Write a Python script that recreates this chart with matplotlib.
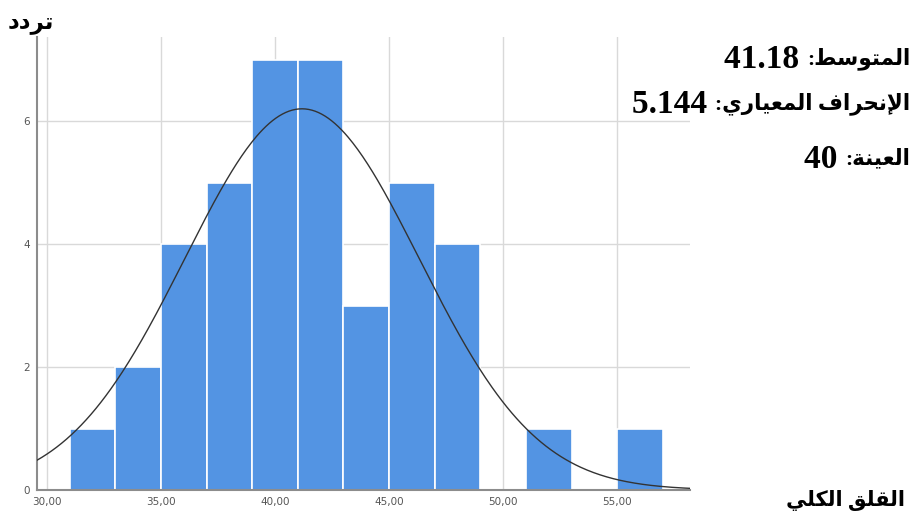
import numpy as np
import matplotlib
matplotlib.use("Agg")
import matplotlib.pyplot as plt

# histogram of total anxiety scores (bins of width 2)
bin_edges = [31, 33, 35, 37, 39, 41, 43, 45, 47, 49, 51, 53, 55, 57]
counts = [1, 2, 4, 5, 7, 7, 3, 5, 4, 0, 1, 0, 1]

mean = 41.18
std_dev = 5.144
n = 40

x_ticks = [30, 35, 40, 45, 50, 55]
x_tick_labels = ["30,00", "35,00", "40,00", "45,00", "50,00", "55,00"]
y_ticks = [0, 2, 4, 6]

y_title = "تردد"
x_title = "القلق الكلي"
stat_labels = ["المتوسط", "الإنحراف المعياري", "العينة"]
stat_values = ["41.18", "5.144", "40"]

# arabic presentation forms: isolated, final, initial, medial
FORMS = {
    "ا": ("\uFE8D", "\uFE8E", None, None),
    "إ": ("\uFE87", "\uFE88", None, None),
    "ة": ("\uFE93", "\uFE94", None, None),
    "ت": ("\uFE95", "\uFE96", "\uFE97", "\uFE98"),
    "ح": ("\uFEA1", "\uFEA2", "\uFEA3", "\uFEA4"),
    "د": ("\uFEA9", "\uFEAA", None, None),
    "ر": ("\uFEAD", "\uFEAE", None, None),
    "س": ("\uFEB1", "\uFEB2", "\uFEB3", "\uFEB4"),
    "ط": ("\uFEC1", "\uFEC2", "\uFEC3", "\uFEC4"),
    "ع": ("\uFEC9", "\uFECA", "\uFECB", "\uFECC"),
    "ف": ("\uFED1", "\uFED2", "\uFED3", "\uFED4"),
    "ق": ("\uFED5", "\uFED6", "\uFED7", "\uFED8"),
    "ك": ("\uFED9", "\uFEDA", "\uFEDB", "\uFEDC"),
    "ل": ("\uFEDD", "\uFEDE", "\uFEDF", "\uFEE0"),
    "م": ("\uFEE1", "\uFEE2", "\uFEE3", "\uFEE4"),
    "ن": ("\uFEE5", "\uFEE6", "\uFEE7", "\uFEE8"),
    "و": ("\uFEED", "\uFEEE", None, None),
    "ي": ("\uFEF1", "\uFEF2", "\uFEF3", "\uFEF4"),
}
LAM_ALEF = {"ا": ("\uFEFB", "\uFEFC"), "إ": ("\uFEF9", "\uFEFA")}


def dual(ch):
    return ch in FORMS and FORMS[ch][2] is not None


def rtl(text):
    # join letters into contextual forms, then flip to visual order
    out = []
    i = 0
    while i < len(text):
        ch = text[i]
        if ch not in FORMS:
            out.append(ch)
            i += 1
            continue
        prev = text[i - 1] if i > 0 else ""
        nxt = text[i + 1] if i + 1 < len(text) else ""
        link_prev = dual(prev)
        if ch == "ل" and nxt in LAM_ALEF:
            out.append(LAM_ALEF[nxt][1 if link_prev else 0])
            i += 2
            continue
        link_next = dual(ch) and nxt in FORMS
        forms = FORMS[ch]
        if link_prev and link_next:
            out.append(forms[3])
        elif link_prev:
            out.append(forms[1])
        elif link_next:
            out.append(forms[2])
        else:
            out.append(forms[0])
        i += 1
    return "".join(out)[::-1]


fig = plt.figure(figsize=(9.16, 5.24), dpi=100)
ax = fig.add_axes([0.0404, 0.065, 0.713, 0.864])

lefts = np.array(bin_edges[:-1])
widths = np.diff(bin_edges)
ax.bar(lefts, counts, width=widths, align="edge", color="#5394e3",
       edgecolor="white", linewidth=1.2, zorder=2)

# fitted normal curve scaled to counts
bin_w = widths[0]
xs = np.linspace(29.56, 58.2, 400)
ys = n * bin_w / (std_dev * np.sqrt(2 * np.pi)) * np.exp(-0.5 * ((xs - mean) / std_dev) ** 2)
ax.plot(xs, ys, color="#333333", linewidth=1.0, zorder=3)

ax.set_xlim(29.56, 58.2)
ax.set_ylim(0, 7.37)
ax.set_xticks(x_ticks)
ax.set_xticklabels(x_tick_labels)
ax.set_yticks(y_ticks)
ax.tick_params(length=0, labelsize=7.5, labelcolor="#555555", pad=5)
ax.grid(True, color="#d9d9d9", linewidth=1.0, zorder=0)
ax.set_axisbelow(True)
for side in ["top", "right"]:
    ax.spines[side].set_visible(False)
for side in ["left", "bottom"]:
    ax.spines[side].set_color("#8c8c8c")
    ax.spines[side].set_linewidth(1.5)

arabic_font = ["Liberation Serif", "DejaVu Sans"]
fig.text(0.008, 0.975, rtl(y_title), family=arabic_font, fontweight="bold",
         fontsize=16.5, ha="left", va="top")
fig.text(0.988, 0.045, rtl(x_title), family=arabic_font, fontweight="bold",
         fontsize=15, ha="right", va="center")

# summary statistics: arabic label on the right, value to its left
stat_y = [0.888, 0.803, 0.697]
for label, value, y in zip(stat_labels, stat_values, stat_y):
    lab = fig.text(0.994, y, ":" + rtl(label), family=arabic_font,
                   fontweight="bold", fontsize=15.5, ha="right", va="center")
    ax.annotate(value + " ", xy=(0, 0.45), xycoords=lab,
                family="Liberation Serif", fontweight="bold", fontsize=24,
                ha="right", va="center", annotation_clip=False)

fig.savefig("out.png", dpi=100)
